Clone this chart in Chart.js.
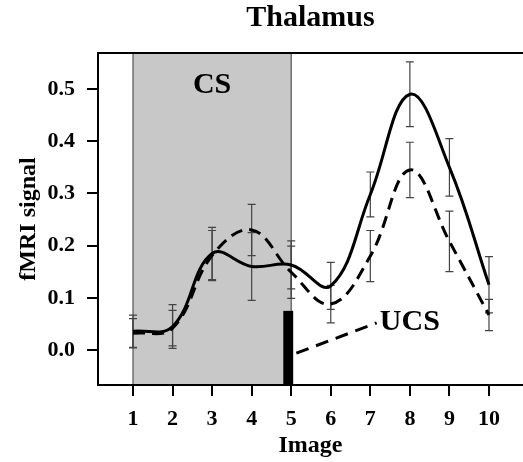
<!DOCTYPE html>
<html>
<head>
<meta charset="utf-8">
<script src="https://cdn.jsdelivr.net/npm/chart.js@4"></script>
<style>
  body { margin: 0; background: #fff; }
  canvas { display: block; }
</style>
</head>
<body>
<canvas id="chart" width="523" height="462"></canvas>
<script>
const images = [1, 2, 3, 4, 5, 6, 7, 8, 9, 10];
const solidMean = [0.036, 0.045, 0.185, 0.160, 0.163, 0.123, 0.298, 0.490, 0.350, 0.125];
const solidErr = [0.031, 0.042, 0.050, 0.065, 0.046, 0.045, 0.043, 0.062, 0.055, 0.054];
const dashedMean = [0.032, 0.042, 0.181, 0.230, 0.149, 0.088, 0.180, 0.345, 0.208, 0.067];
const dashedErr = [0.028, 0.034, 0.048, 0.049, 0.050, 0.036, 0.049, 0.053, 0.058, 0.030];
const yTicks = [0.0, 0.1, 0.2, 0.3, 0.4, 0.5];
const xTicks = [1, 2, 3, 4, 5, 6, 7, 8, 9, 10];
const csWindow = [1, 5];
const ucsBar = [4.8, 5.05, 0.075];
const ucsPointer = [5.13, -0.006, 7.16, 0.052];
const csLabel = [3.0, 0.508];
const ucsLabel = [7.24, 0.054];

const serif = "'Liberation Serif', 'Times New Roman', serif";

const toPoints = (ys) => images.map((x, i) => ({ x: x, y: ys[i] }));

const decorations = {
  id: 'decorations',
  beforeDatasetsDraw(chart) {
    const { ctx, chartArea: a, scales: { x, y } } = chart;
    ctx.save();
    // CS shading
    const x0 = x.getPixelForValue(csWindow[0]);
    const x1 = x.getPixelForValue(csWindow[1]);
    ctx.fillStyle = '#c8c8c8';
    ctx.fillRect(x0, a.top, x1 - x0, a.bottom - a.top);
    ctx.strokeStyle = '#555';
    ctx.lineWidth = 1.2;
    ctx.beginPath();
    ctx.moveTo(x0, a.top); ctx.lineTo(x0, a.bottom);
    ctx.moveTo(x1, a.top); ctx.lineTo(x1, a.bottom);
    ctx.stroke();

    // error bars
    ctx.strokeStyle = '#444';
    ctx.lineWidth = 1.2;
    const bars = (means, errs) => {
      images.forEach((v, i) => {
        const px = x.getPixelForValue(v);
        const lo = y.getPixelForValue(means[i] - errs[i]);
        const hi = y.getPixelForValue(means[i] + errs[i]);
        ctx.beginPath();
        ctx.moveTo(px, lo); ctx.lineTo(px, hi);
        ctx.moveTo(px - 4, lo); ctx.lineTo(px + 4, lo);
        ctx.moveTo(px - 4, hi); ctx.lineTo(px + 4, hi);
        ctx.stroke();
      });
    };
    bars(solidMean, solidErr);
    bars(dashedMean, dashedErr);

    // UCS bar
    const bx0 = x.getPixelForValue(ucsBar[0]);
    const bx1 = x.getPixelForValue(ucsBar[1]);
    const by = y.getPixelForValue(ucsBar[2]);
    ctx.fillStyle = '#000';
    ctx.fillRect(bx0, by, bx1 - bx0, a.bottom - by);

    // UCS pointer
    ctx.strokeStyle = '#000';
    ctx.lineWidth = 3;
    ctx.setLineDash([13, 8]);
    ctx.beginPath();
    ctx.moveTo(x.getPixelForValue(ucsPointer[0]), y.getPixelForValue(ucsPointer[1]));
    ctx.lineTo(x.getPixelForValue(ucsPointer[2]), y.getPixelForValue(ucsPointer[3]));
    ctx.stroke();
    ctx.setLineDash([]);

    // labels
    ctx.fillStyle = '#000';
    ctx.font = 'bold 30px ' + serif;
    ctx.textBaseline = 'middle';
    ctx.textAlign = 'center';
    ctx.fillText('CS', x.getPixelForValue(csLabel[0]), y.getPixelForValue(csLabel[1]));
    ctx.textAlign = 'left';
    ctx.fillText('UCS', x.getPixelForValue(ucsLabel[0]), y.getPixelForValue(ucsLabel[1]));
    ctx.restore();
  },
  afterDraw(chart) {
    const { ctx, chartArea: a } = chart;
    ctx.save();
    ctx.strokeStyle = '#000';
    ctx.lineWidth = 2;
    ctx.beginPath();
    ctx.moveTo(a.right + 2, a.top);
    ctx.lineTo(a.left, a.top);
    ctx.lineTo(a.left, a.bottom);
    ctx.lineTo(a.right + 2, a.bottom);
    ctx.stroke();
    ctx.restore();
  }
};

new Chart(document.getElementById('chart'), {
  type: 'line',
  data: {
    datasets: [
      {
        data: toPoints(solidMean),
        borderColor: '#000',
        borderWidth: 3,
        tension: 0.4,
        pointRadius: 0,
        fill: false
      },
      {
        data: toPoints(dashedMean),
        borderColor: '#000',
        borderWidth: 3,
        borderDash: [12, 7],
        tension: 0.4,
        pointRadius: 0,
        fill: false
      }
    ]
  },
  options: {
    responsive: false,
    animation: false,
    events: [],
    layout: { padding: { left: 0, right: 0, top: 0, bottom: 0 } },
    plugins: {
      legend: { display: false },
      tooltip: { enabled: false },
      title: {
        display: true,
        text: 'Thalamus',
        color: '#000',
        fullSize: false,
        font: { family: serif, size: 30, weight: 'bold' },
        padding: { top: 0, bottom: 17 }
      }
    },
    scales: {
      x: {
        type: 'linear',
        min: 0.115,
        max: 10.86,
        afterBuildTicks: (s) => { s.ticks = xTicks.map(v => ({ value: v })); },
        afterFit: (s) => { s.height = 77; },
        ticks: {
          color: '#000',
          font: { family: serif, size: 22, weight: 'bold' },
          padding: 10,
          maxRotation: 0,
          autoSkip: false,
          callback: (v) => String(v)
        },
        grid: { display: true, drawOnChartArea: false, drawTicks: true, tickLength: 11, color: '#000', lineWidth: 2 },
        border: { display: false },
        title: {
          display: true,
          text: 'Image',
          color: '#000',
          font: { family: serif, size: 24, weight: 'bold' },
          padding: { top: 0, bottom: 2 }
        }
      },
      y: {
        min: -0.067,
        max: 0.569,
        afterBuildTicks: (s) => { s.ticks = yTicks.map(v => ({ value: v })); },
        afterFit: (s) => { s.width = 98; },
        ticks: {
          color: '#000',
          font: { family: serif, size: 22, weight: 'bold' },
          padding: 12,
          callback: (v) => Number(v).toFixed(1)
        },
        grid: { display: true, drawOnChartArea: false, drawTicks: true, tickLength: 11, color: '#000', lineWidth: 2 },
        border: { display: false },
        title: {
          display: true,
          text: 'fMRI signal',
          color: '#000',
          font: { family: serif, size: 24, weight: 'bold' },
          padding: { top: 14, bottom: 0 }
        }
      }
    }
  },
  plugins: [decorations]
});
</script>
</body>
</html>
